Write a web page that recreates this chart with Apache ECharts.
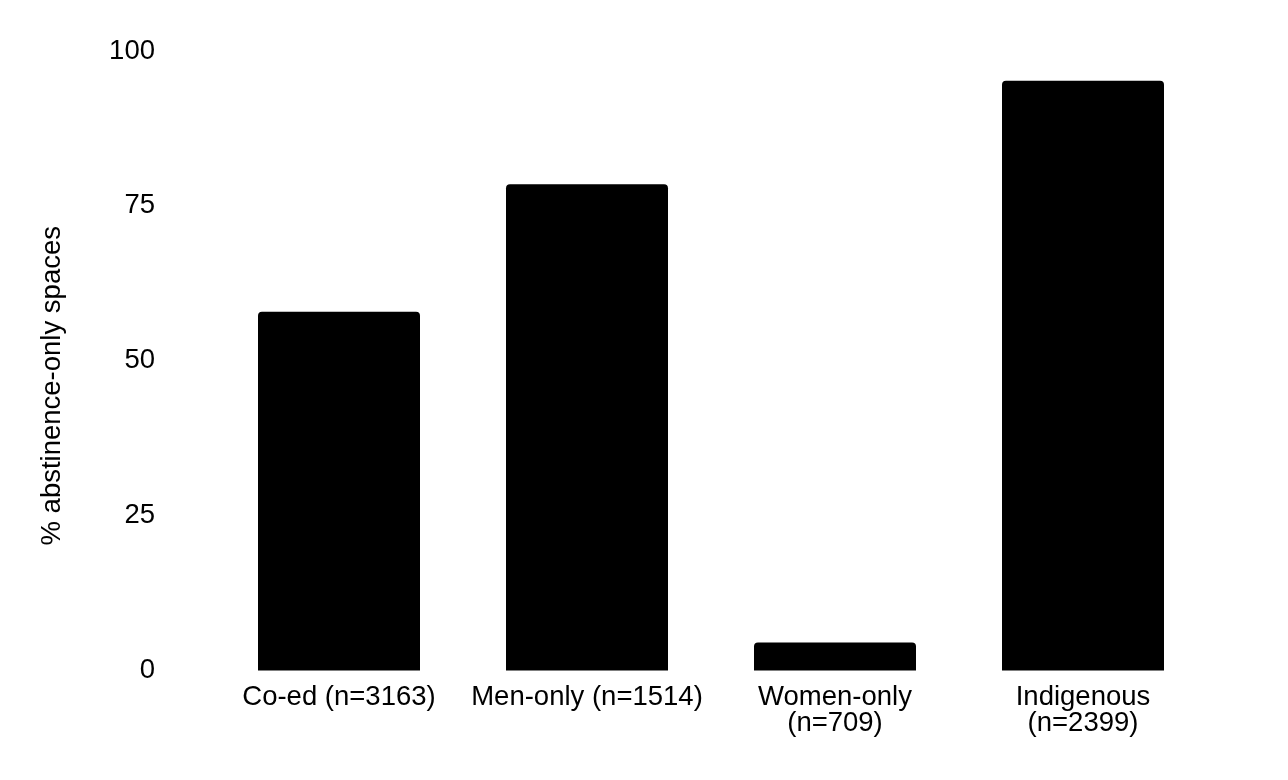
<!DOCTYPE html>
<html>
<head>
<meta charset="utf-8">
<script src="https://cdn.jsdelivr.net/npm/echarts@6/dist/echarts.min.js"></script>
<style>
  html, body { margin: 0; padding: 0; background: #fff; }
  #chart { width: 1288px; height: 780px; }
</style>
</head>
<body>
<div id="chart"></div>
<script>
// categories and values
var categories = ['Co-ed (n=3163)', 'Men-only (n=1514)', 'Women-only\n(n=709)', 'Indigenous\n(n=2399)'];
var shares = [57.9, 78.5, 4.5, 95.2];
var yTicks = [0, 25, 50, 75, 100];

var font = 'Liberation Sans, Arial, Helvetica, sans-serif';
var myChart = echarts.init(document.getElementById('chart'));

var option = {
    backgroundColor: '#fff',
    animation: false,
    grid: {
        left: 215,
        right: 81,
        top: 51,
        bottom: 109.5
    },
    xAxis: {
        type: 'category',
        data: categories,
        axisLine: { show: false },
        axisTick: { show: false },
        axisLabel: {
            interval: 0,
            margin: 14,
            color: '#000',
            fontFamily: font,
            fontSize: 27.5,
            lineHeight: 26
        }
    },
    yAxis: {
        type: 'value',
        min: yTicks[0],
        max: yTicks[yTicks.length - 1],
        interval: 25,
        name: '% abstinence-only spaces',
        nameLocation: 'middle',
        nameGap: 149,
        nameTextStyle: {
            color: '#000',
            fontFamily: font,
            fontSize: 27.5,
            padding: [0, 50, 0, 0]
        },
        axisLine: { show: false },
        axisTick: { show: false },
        splitLine: { show: false },
        axisLabel: {
            margin: 60,
            color: '#000',
            fontFamily: font,
            fontSize: 27.5
        }
    },
    series: [
        {
            type: 'bar',
            data: shares,
            barWidth: 162,
            itemStyle: {
                color: '#000',
                borderRadius: [4, 4, 0, 0]
            }
        }
    ]
};

myChart.setOption(option);
</script>
</body>
</html>
